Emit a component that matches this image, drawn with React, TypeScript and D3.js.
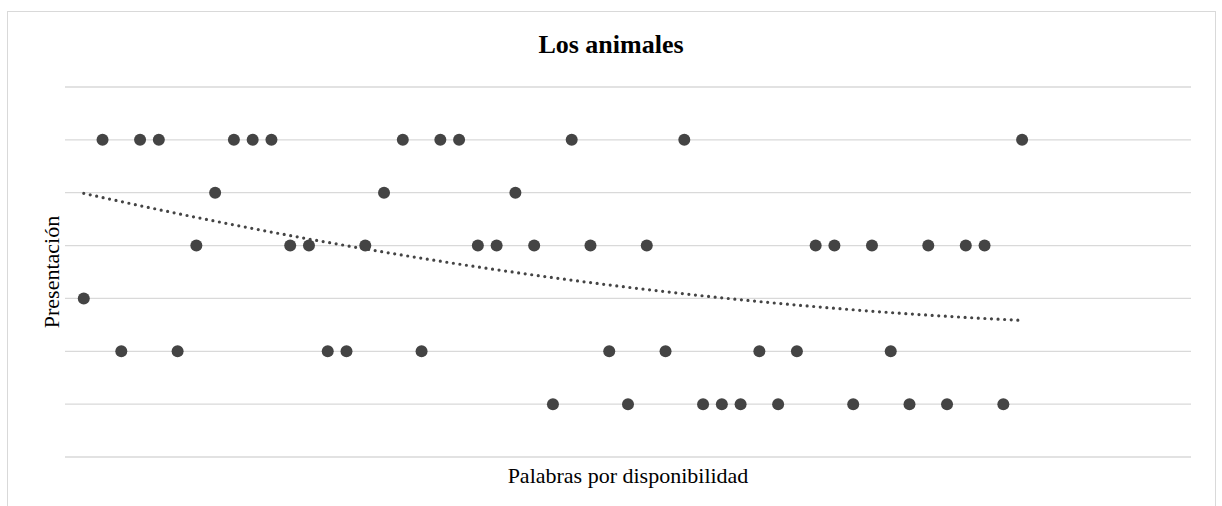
import * as d3 from "d3";
import React from "react";

// word index along the x axis (no tick labels shown in the original)
const palabras = [
  1, 2, 3, 4, 5, 6, 7, 8, 9, 10, 11, 12, 13, 14, 15, 16, 17, 18, 19, 20, 21,
  22, 23, 24, 25, 26, 27, 28, 29, 30, 31, 32, 33, 34, 35, 36, 37, 38, 39, 40,
  41, 42, 43, 44, 45, 46, 47, 48, 49, 50, 51,
];
const presentacion = [
  3, 6, 2, 6, 6, 2, 4, 5, 6, 6, 6, 4, 4, 2, 2, 4, 5, 6, 2, 6, 6, 4, 4, 5, 4, 1,
  6, 4, 2, 1, 4, 2, 6, 1, 1, 1, 2, 1, 2, 4, 4, 1, 4, 2, 1, 4, 1, 4, 4, 1, 6,
];
const yTicks = [0, 1, 2, 3, 4, 5, 6, 7];

const W = 1222,
  H = 506;
const margin = { top: 87, right: 31, bottom: 49, left: 65 };
const serif = "'Liberation Serif', 'Times New Roman', serif";

// least squares, order 2 polynomial (like the spreadsheet trendline)
function polyFit(xs: number[], ys: number[]) {
  const s = [0, 0, 0, 0, 0];
  const t = [0, 0, 0];
  xs.forEach((x, i) => {
    for (let k = 0; k < 5; k++) s[k] += Math.pow(x, k);
    for (let k = 0; k < 3; k++) t[k] += Math.pow(x, k) * ys[i];
  });
  const m = [
    [s[0], s[1], s[2], t[0]],
    [s[1], s[2], s[3], t[1]],
    [s[2], s[3], s[4], t[2]],
  ];
  for (let i = 0; i < 3; i++) {
    for (let j = i + 1; j < 3; j++) {
      const f = m[j][i] / m[i][i];
      for (let k = i; k < 4; k++) m[j][k] -= f * m[i][k];
    }
  }
  const c = [0, 0, 0];
  for (let i = 2; i >= 0; i--) {
    let v = m[i][3];
    for (let k = i + 1; k < 3; k++) v -= m[i][k] * c[k];
    c[i] = v / m[i][i];
  }
  return (x: number) => c[0] + c[1] * x + c[2] * x * x;
}

const App = () => {
  const x = d3
    .scaleLinear()
    .domain([0, 60])
    .range([margin.left, W - margin.right]);
  const y = d3
    .scaleLinear()
    .domain([0, 7])
    .range([H - margin.bottom, margin.top]);

  const fit = polyFit(palabras, presentacion);
  const xMin = d3.min(palabras) as number;
  const xMax = d3.max(palabras) as number;
  const trendPts = d3.range(xMin, xMax + 0.01, 0.5).map((v) => [v, fit(v)]);
  const line = d3
    .line<number[]>()
    .x((d) => x(d[0]))
    .y((d) => y(d[1]))
    .curve(d3.curveMonotoneX);

  const [x0, x1] = x.range();

  return (
    <div style={{ position: "absolute", left: 0, top: 0 }}>
      <svg width={W} height={H} style={{ display: "block", background: "#fff" }}>
        <rect
          x={7.5}
          y={11.5}
          width={1208}
          height={520}
          fill="#fff"
          stroke="#d9d9d9"
          strokeWidth={1}
        />
        <text
          x={611}
          y={53}
          textAnchor="middle"
          fontFamily={serif}
          fontWeight="bold"
          fontSize={26}
          fill="#000"
        >
          Los animales
        </text>

        {yTicks.map((t) => (
          <line
            key={t}
            x1={x0}
            x2={x1}
            y1={y(t)}
            y2={y(t)}
            stroke="#d9d9d9"
            strokeWidth={1.3}
          />
        ))}

        {palabras.map((p, i) => (
          <circle key={i} cx={x(p)} cy={y(presentacion[i])} r={6} fill="#444444" />
        ))}

        <path
          d={line(trendPts) || ""}
          fill="none"
          stroke="#444444"
          strokeWidth={3.2}
          strokeLinecap="round"
          strokeDasharray="0 6.6"
        />

        <text
          x={(x0 + x1) / 2}
          y={483}
          textAnchor="middle"
          fontFamily={serif}
          fontSize={22}
          fill="#000"
        >
          Palabras por disponibilidad
        </text>
        <text
          transform={`translate(59,${(y(0) + y(7)) / 2}) rotate(-90)`}
          textAnchor="middle"
          fontFamily={serif}
          fontSize={22}
          fill="#000"
        >
          Presentación
        </text>
      </svg>
    </div>
  );
};

export default App;
